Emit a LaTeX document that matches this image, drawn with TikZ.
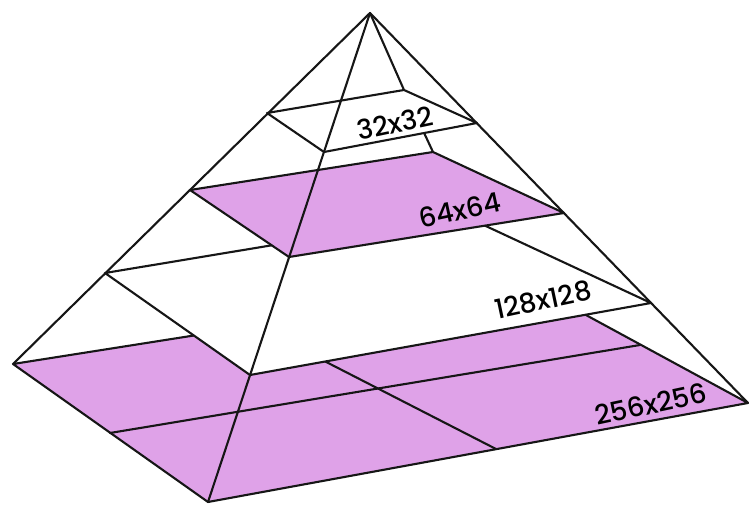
\documentclass[tikz,border=0pt]{standalone}
\usepackage{fontspec}
\newfontfamily\labelfont{Poppins}[UprightFont=* Medium]
\usetikzlibrary{calc}
\definecolor{pyrPurple}{HTML}{DFA2E8}
\definecolor{pyrLine}{HTML}{161616}
\tikzset{
  pyr line/.style={line width=2.1pt, draw=pyrLine, line join=round,
    line cap=round},
  grid layer/.style={pyr line, fill=pyrPurple},
  blank layer/.style={pyr line, fill=white},
  size label/.style={font=\labelfont\fontsize{27}{30}\selectfont,
    rotate=12, inner sep=0pt}
}

\begin{document}
\begin{tikzpicture}[x=1pt, y=-1pt]
  \useasboundingbox (0,0) rectangle (752,505);
  \coordinate (apex) at (370,13);
  % base 256x256
  \coordinate (l0) at (13,364);
  \coordinate (f0) at (208,502);
  \coordinate (r0) at (748,403);
  \coordinate (b0) at (527,283);
  % layer 128x128
  \coordinate (l1) at (105,273);
  \coordinate (f1) at (250,375);
  \coordinate (r1) at (651,303);
  \coordinate (b1) at (460,214);
  % layer 64x64
  \coordinate (l2) at (190,190);
  \coordinate (f2) at (289,257);
  \coordinate (r2) at (564,213);
  \coordinate (b2) at (433,152);
  % layer 32x32
  \coordinate (l3) at (267,113);
  \coordinate (f3) at (324,152);
  \coordinate (r3) at (477,123);
  \coordinate (b3) at (404,90);

  \draw[grid layer] (l0) -- (f0) -- (r0) -- (b0) -- cycle;
  \coordinate (q1a) at (110,433); \coordinate (q1b) at (640,345);
  \coordinate (q2a) at (496,449); \coordinate (q2b) at (256,326);
  \draw[pyr line] (q1a) -- (q1b);
  \draw[pyr line] (q2a) -- (q2b);

  \draw[pyr line] (apex) -- (b3) -- (b2);
  \draw[blank layer] (l1) -- (f1) -- (r1) -- (b1) -- cycle;
  \draw[grid layer] (l2) -- (f2) -- (r2) -- (b2) -- cycle;
  \draw[blank layer] (l3) -- (f3) -- (r3) -- (b3) -- cycle;

  % outer edges
  \draw[pyr line] (l0) -- (apex) -- (r0);
  \draw[pyr line] (apex) -- (f0);

  \node[size label] (lab32) at (395,123) {32x32};
  \node[size label] (lab64) at (460,210) {64x64};
  \node[size label] (lab128) at (543,300) {128x128};
  \node[size label] (lab256) at (651,404) {256x256};
\end{tikzpicture}
\end{document}
